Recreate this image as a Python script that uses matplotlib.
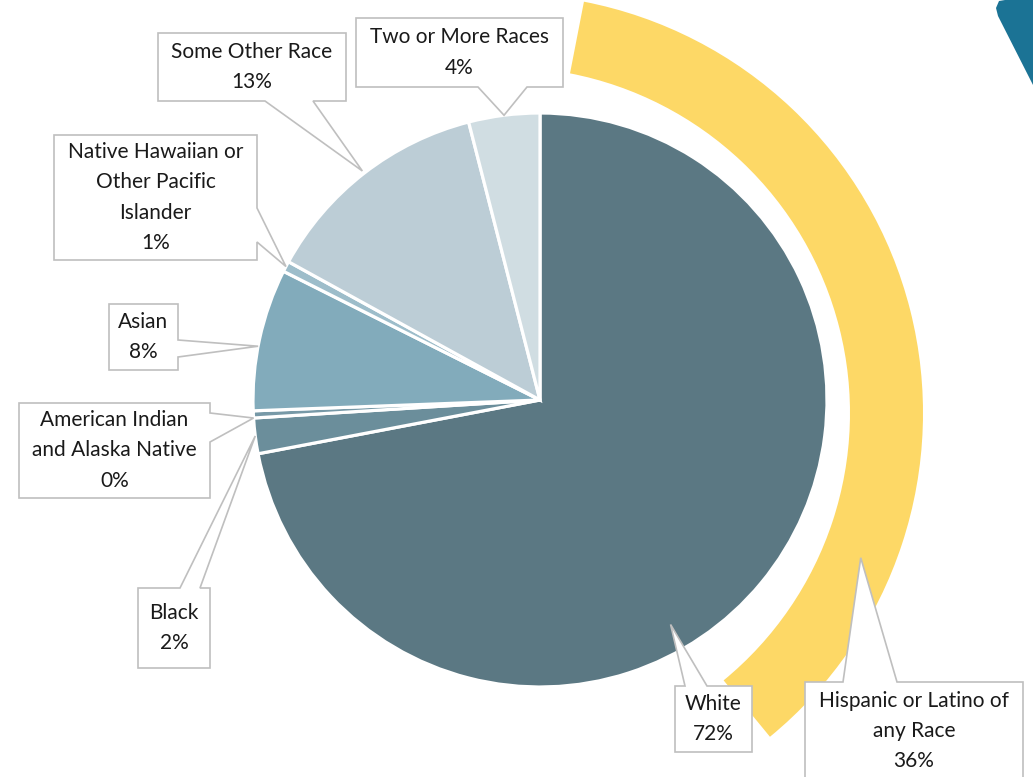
import numpy as np
import matplotlib.pyplot as plt
from matplotlib.patches import Polygon, Wedge

# ---- data ----
categories = ["White", "Black", "American Indian\nand Alaska Native", "Asian",
              "Native Hawaiian or\nOther Pacific\nIslander", "Some Other Race",
              "Two or More Races"]
shares = [72, 2, 0.4, 8, 0.6, 13, 4]
slice_colors = ["#5b7883", "#6b8e9b", "#7799a7", "#82abbb", "#9dbdca",
                "#bccdd6", "#d0dde2"]
hispanic_label = "Hispanic or Latino of\nany Race"
hispanic_share = 36

# ---- layout (pixel space, y pointing down) ----
W, H = 1033, 777
pie_center = (540, 400)
pie_radius = 287
ring_center = (504, 413)
ring_outer, ring_width = 419, 73
ring_start = -79.0

# box (x0, y0, x1, y1), pointer side, pointer base, anchor fraction along wedge, radius factor
callouts = [
    ((675, 686, 752, 752), "top", (685, 707), 0.578, 0.905),
    ((138, 588, 210, 668), "top", (180, 200), 0.5, 1.0),
    ((19, 403, 210, 498), "right", (413, 442), 0.0, 1.0),
    ((109, 304, 178, 370), "right", (340, 357), 0.45, 1.0),
    ((54, 135, 257, 260), "right", (208, 242), 0.5, 1.0),
    ((158, 33, 346, 101), "bottom", (265, 313), 0.5, 1.01),
    ((356, 18, 563, 87), "bottom", (478, 527), 0.5, 1.0),
]
hisp_box = ((805, 682, 1023, 780), "top", (843, 897), 0.78, 385)

box_edge = "#bfbfbf"
text_color = "#1a1a1a"
fsize = 15
lspace = 1.65
plt.rcParams['font.family'] = ['Lato', 'DejaVu Sans']


def callout_poly(box, side, base, tip):
    x0, y0, x1, y1 = box
    b0, b1 = base
    pts = [(x0, y0)]
    if side == "top":
        pts += [(b0, y0), tip, (b1, y0)]
    pts.append((x1, y0))
    if side == "right":
        pts += [(x1, b0), tip, (x1, b1)]
    pts.append((x1, y1))
    if side == "bottom":
        pts += [(b1, y1), tip, (b0, y1)]
    pts.append((x0, y1))
    return pts


def polar(center, r, ang):
    a = np.deg2rad(ang)
    return (center[0] + r*np.cos(a), center[1] + r*np.sin(a))


fig = plt.figure(figsize=(W/100, H/100), dpi=100)
ax = fig.add_axes([0, 0, 1, 1])

# y axis points down, so counterclock in data space is clockwise on screen
wedges, _ = ax.pie(shares, colors=slice_colors, startangle=-90, counterclock=True,
                   center=pie_center, radius=pie_radius,
                   wedgeprops=dict(edgecolor="white", linewidth=2.3))

ring_end = ring_start + 360*hispanic_share/100
ax.add_patch(Wedge(ring_center, ring_outer, ring_start, ring_end, width=ring_width,
                   facecolor="#fdd866", edgecolor="none"))

# decorative corner shape
ax.add_patch(Polygon([(996, 8), (999, 1), (1005, 0), (1033, 0), (1033, 85), (998, 16)],
                     closed=True, facecolor="#1b7395", edgecolor="none"))

for w, cat, val, (box, side, base, f, rf) in zip(wedges, categories, shares, callouts):
    ang = w.theta1 + f*(w.theta2 - w.theta1)
    tip = polar(pie_center, pie_radius*rf, ang)
    ax.add_patch(Polygon(callout_poly(box, side, base, tip), closed=True,
                         facecolor="white", edgecolor=box_edge, linewidth=1.2, zorder=5))
    ax.text((box[0]+box[2])/2, (box[1]+box[3])/2, f"{cat}\n{val:.0f}%",
            ha="center", va="center", fontsize=fsize, color=text_color,
            linespacing=lspace, zorder=6)

box, side, base, f, r = hisp_box
tip = polar(ring_center, r, ring_start + f*(ring_end - ring_start))
ax.add_patch(Polygon(callout_poly(box, side, base, tip), closed=True,
                     facecolor="white", edgecolor=box_edge, linewidth=1.2, zorder=5))
ax.text((box[0]+box[2])/2, (box[1]+box[3])/2, f"{hispanic_label}\n{hispanic_share}%",
        ha="center", va="center", fontsize=fsize, color=text_color,
        linespacing=lspace, zorder=6)

ax.set_xlim(0, W)
ax.set_ylim(H, 0)
ax.set_aspect("equal")
ax.axis("off")

fig.savefig("out.png", dpi=100)
